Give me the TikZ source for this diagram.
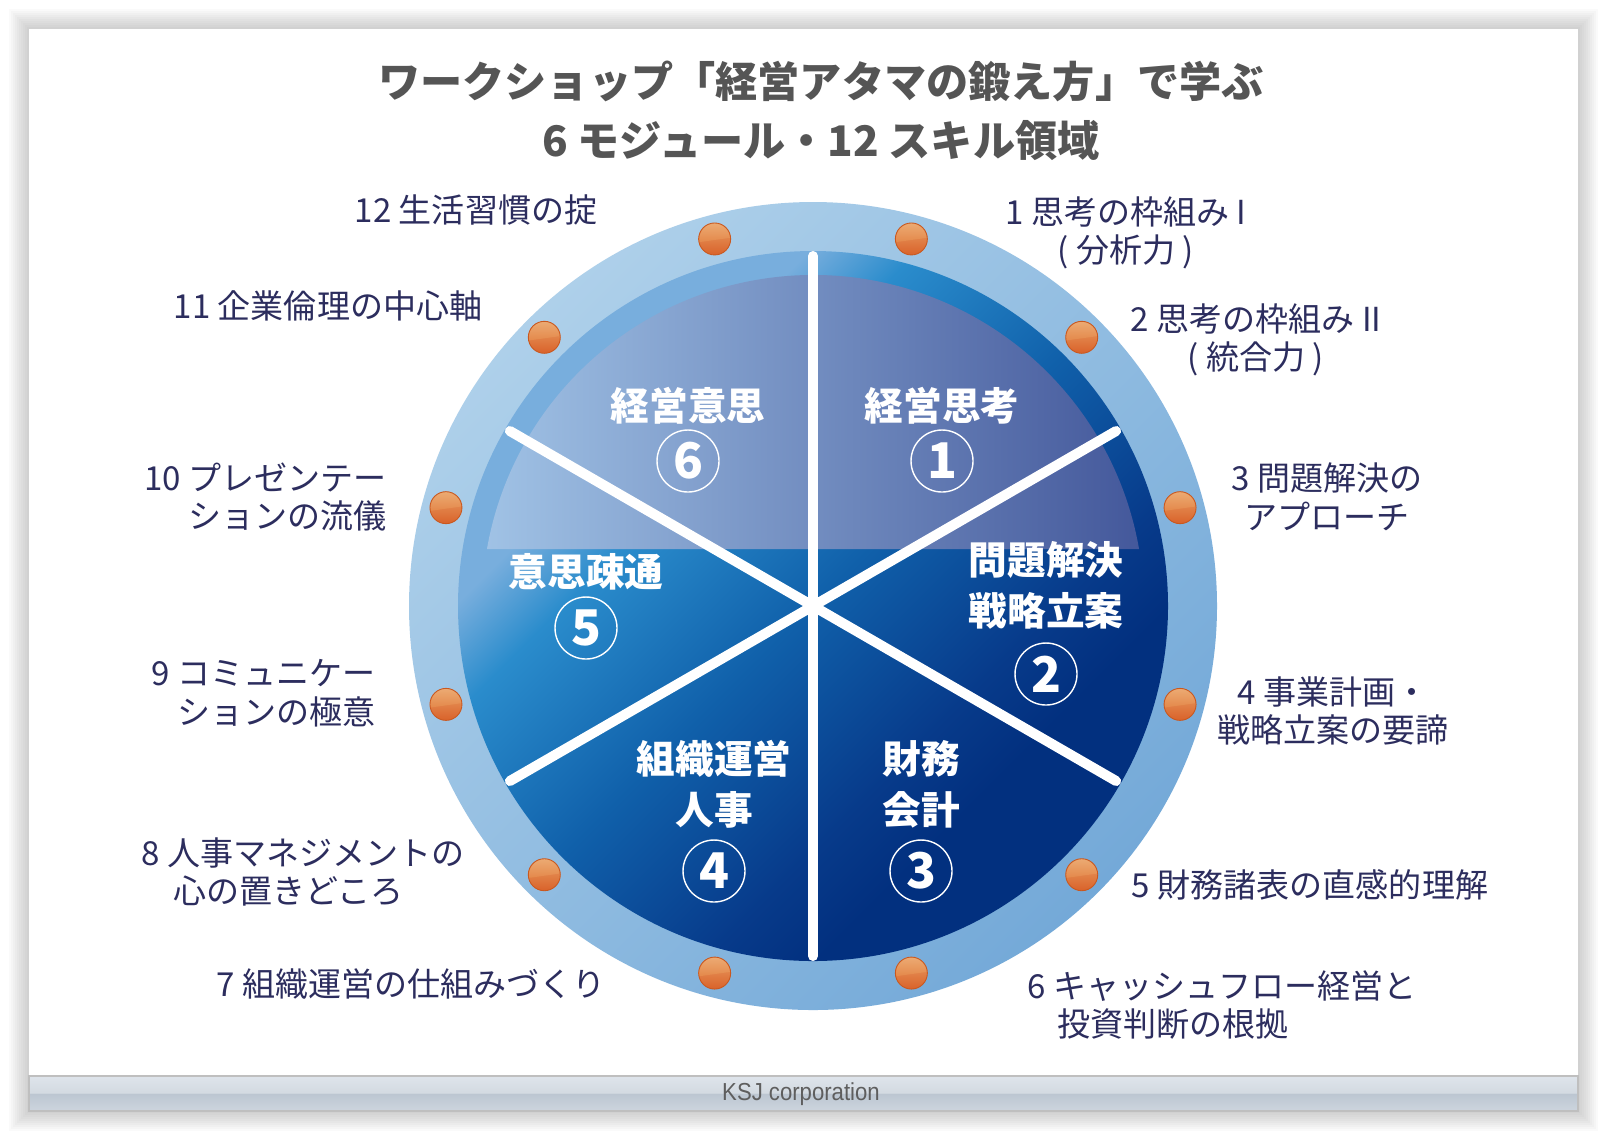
\documentclass[tikz,border=0pt]{standalone}
\usepackage{fontspec}
\setmainfont{Noto Sans CJK JP}
\newfontfamily\footfont[FakeStretch=0.9]{Liberation Sans}
\usetikzlibrary{calc}

\definecolor{skillink}{HTML}{2C2D5E}
\definecolor{titlegray}{HTML}{555555}
\definecolor{footgray}{HTML}{5E5E5E}
\definecolor{ringlt}{HTML}{AED0EA}
\definecolor{ringdk}{HTML}{74A9D8}
\definecolor{dsc1}{HTML}{78AEDD}
\definecolor{dsc2}{HTML}{2A8CCC}
\definecolor{dsc3}{HTML}{1060AA}
\definecolor{dsc4}{HTML}{073A8A}
\definecolor{dsc5}{HTML}{02307F}
\definecolor{ovl1}{HTML}{A0C2E5}
\definecolor{ovl2}{HTML}{6C9BCE}
\definecolor{ovl3}{HTML}{44589B}
\definecolor{knobhi}{HTML}{E9A065}
\definecolor{knoblo}{HTML}{D9622A}
\definecolor{knobtop}{HTML}{EDB07A}
\definecolor{knobmid}{HTML}{E4884A}
\definecolor{knobrim}{HTML}{C9581F}
\definecolor{foot1}{HTML}{DDE3EA}
\definecolor{foot2}{HTML}{D3DAE1}
\definecolor{foot3}{HTML}{BCC6D1}
\definecolor{foot4}{HTML}{CDD5DE}

\pgfdeclareverticalshading{discshade}{100bp}{color(0bp)=(dsc5); color(32bp)=(dsc5); color(37.5bp)=(dsc4); color(50bp)=(dsc3); color(62.5bp)=(dsc2); color(68bp)=(dsc1); color(100bp)=(dsc1)}
\pgfdeclareverticalshading{footshade}{100bp}{color(0bp)=(foot4); color(25bp)=(foot4); color(50bp)=(foot3); color(51bp)=(foot2); color(72bp)=(foot1); color(75bp)=(foot1); color(100bp)=(foot1)}

\begin{document}
\begin{tikzpicture}[x=0.1mm, y=0.1mm,
    skill/.style={font=\fontsize{9.4pt}{11pt}\selectfont, text=skillink, align=center, inner sep=0pt},
    module/.style={font=\fontsize{11pt}{14.6pt}\selectfont\bfseries, text=white, align=center, inner sep=0pt},
    modnum/.style={circle, draw=white, line width=0.4pt, minimum size=6.2mm, inner sep=0pt,
                   text=white, font=\fontsize{14pt}{14pt}\selectfont\bfseries},
    spoke/.style={white, line width=1mm, line cap=round},
    knob/.pic={
      \shade[top color=knobhi, bottom color=knoblo] (0,0) circle (16);
      \begin{scope}
        \clip (0,0) circle (15.5);
        \shade[rotate=8, top color=knobtop, bottom color=knobmid] (-17,-1) rectangle (17,17);
      \end{scope}
      \draw[knobrim, line width=0.25pt] (0,0) circle (16);
    },
  ]
  \useasboundingbox (0,0) rectangle (1610,-1144);

  % Card with soft shadow
  \foreach \i in {1,...,10}
    \fill[black, opacity=0.02] ({29-2*\i},{-29+2*\i}) rectangle ({1578+2*\i},{-1111-2*\i});
  \fill[white] (29,-29) rectangle (1578,-1111);
  \shade[shading=footshade, draw=black!25] (29,-1076) rectangle (1578,-1111);
  \node[font=\footfont\fontsize{7pt}{7pt}\selectfont, text=footgray] (corp) at (801,-1094) {KSJ corporation};

  % Title
  \node[font=\fontsize{12pt}{16.8pt}\selectfont\bfseries, text=titlegray, align=center] (title) at (821,-111)
    {ワークショップ「経営アタマの鍛え方」で学ぶ\\6 モジュール・12 スキル領域};

  % Wheel
  \coordinate (ctr) at (813,-606);
  \begin{scope}[shift={(ctr)}]
    \shade[top color=ringlt, bottom color=ringdk, shading angle=45] (0,0) circle (404);
    \shade[shading=discshade, shading angle=45] (0,0) circle (355);
    \shade[left color=ovl1, middle color=ovl2, right color=ovl3]
      (9.9:331) arc[start angle=9.9, end angle=170.1, radius=331] -- cycle;
    \foreach \a in {90,30,-30,-90,-150,150}
      \draw[spoke] (0,0) -- (\a:350);
    \foreach \a in {15,45,...,345}
      \pic at (\a:380) {knob};
  \end{scope}

  % Modules
  \node[module] (m1) at (942,-406)  {経営思考};
  \node[modnum] (n1) at (942,-461)  {1};
  \node[module] (m2) at (1046,-585) {問題解決\\戦略立案};
  \node[modnum] (n2) at (1046,-674) {2};
  \node[module] (m3) at (921,-784)  {財務\\会計};
  \node[modnum] (n3) at (921,-871)  {3};
  \node[module] (m4) at (714,-784)  {組織運営\\人事};
  \node[modnum] (n4) at (714,-871)  {4};
  \node[module] (m5) at (586,-572)  {意思疎通};
  \node[modnum] (n5) at (586,-628)  {5};
  \node[module] (m6) at (688,-406)  {経営意思};
  \node[modnum] (n6) at (688,-461)  {6};

  % Skill areas
  \node[skill] (s1) at (1126,-233) {1 思考の枠組み I\\( 分析力 )};
  \node[skill] (s2) at (1256,-340) {2 思考の枠組み II\\( 統合力 )};
  \node[skill] (s3) at (1327,-497) {3 問題解決の\\アプローチ};
  \node[skill] (s4) at (1333,-711) {4 事業計画・\\戦略立案の要諦};
  \node[skill] (s5) at (1310,-885) {5 財務諸表の直感的理解};
  \node[skill, align=left, anchor=west] (s6) at (1027,-1005) {6 キャッシュフロー経営と\\\hspace*{3mm}投資判断の根拠};
  \node[skill] (s7) at (411,-984) {7 組織運営の仕組みづくり};
  \node[skill, align=left, anchor=west] (s8) at (141,-872) {8 人事マネジメントの\\\hspace*{3.2mm}心の置きどころ};
  \node[skill, align=right, anchor=east] (s9) at (376,-693) {9 コミュニケー\\ションの極意};
  \node[skill, align=right, anchor=east] (s10) at (387,-497) {10 プレゼンテー\\ションの流儀};
  \node[skill] (s11) at (328,-306) {11 企業倫理の中心軸};
  \node[skill] (s12) at (476,-210) {12 生活習慣の掟};
\end{tikzpicture}
\end{document}
